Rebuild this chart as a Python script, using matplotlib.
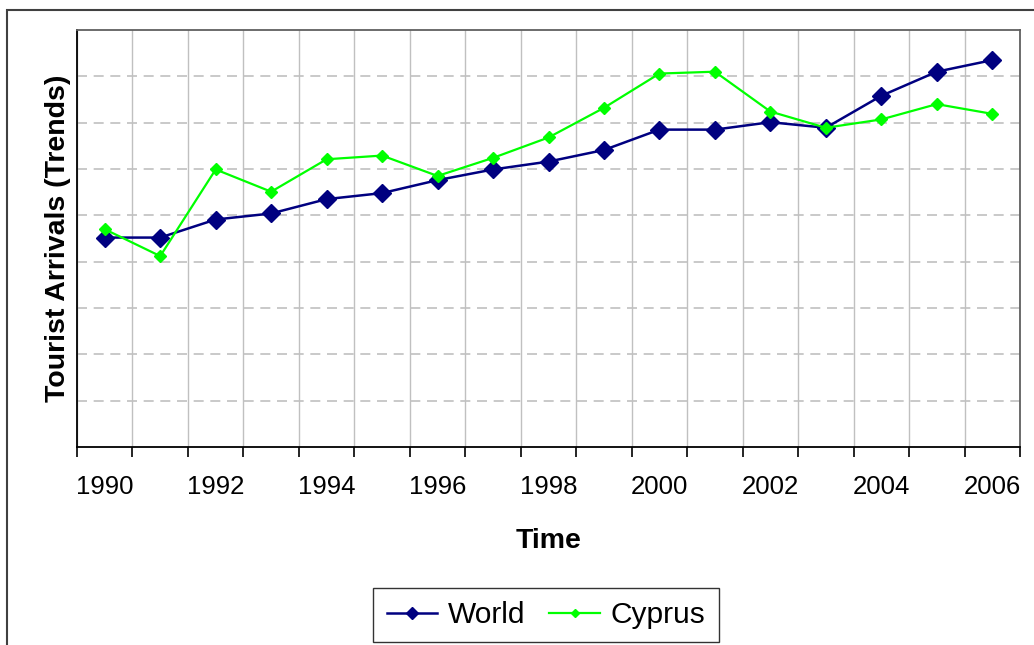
"""
Tourist arrivals trend chart: World vs Cyprus
"""
from matplotlib import pyplot as plt
from matplotlib.patches import Rectangle
import numpy as np

plt.rcParams['font.family'] = ['Liberation Sans', 'DejaVu Sans']

# data (arbitrary trend units)
years = [str(y) for y in range(1990, 2007)]
world = [45.2, 45.2, 49.1, 50.4, 53.5, 54.8, 57.6, 59.9, 61.6, 64.1,
         68.5, 68.5, 70.1, 68.9, 75.8, 81.0, 83.5]
cyprus = [47.0, 41.2, 59.9, 55.1, 62.1, 62.9, 58.5, 62.4, 66.8, 73.2,
          80.6, 81.0, 72.4, 68.9, 70.7, 74.0, 71.9]

fig = plt.figure(figsize=(10.34, 6.45), dpi=100)
ax = fig.add_axes([77 / 1034, 198 / 645, 943 / 1034, 417 / 645])

# outer chart frame (cut off on the right and bottom)
fig.patches.append(Rectangle((7 / 1034, -0.1), 1.2, 0.1 + 635 / 645,
                             transform=fig.transFigure, fill=False,
                             edgecolor='#404040', linewidth=1.5))

x = np.arange(len(years))
ax.plot(x, world, color='#000080', linewidth=1.8, marker='D',
        markersize=9, label='World', zorder=3)
ax.plot(x, cyprus, color='#00FF00', linewidth=1.6, marker='D',
        markersize=6, label='Cyprus', zorder=4)

ax.set_xlim(-0.5, len(years) - 0.5)
ax.set_ylim(0, 90)

# category axis: ticks/grid between categories, labels every second year
ax.set_xticks(x[::2])
ax.set_xticklabels(years[::2], fontsize=18.5)
ax.set_xticks(np.arange(-0.5, len(years)), minor=True)
ax.tick_params(axis='x', which='major', length=0, pad=20)
ax.tick_params(axis='x', which='minor', length=7, width=1.2,
               direction='out', color='black')
ax.grid(True, axis='x', which='minor', color='#c0c0c0', linewidth=1,
        linestyle='-')

ax.set_yticks(np.arange(10, 90, 10))
ax.set_yticklabels([])
ax.tick_params(axis='y', length=0)
ax.grid(True, axis='y', which='major', color='#c0c0c0', linewidth=1.2,
        linestyle=(0, (6, 4)))
ax.set_axisbelow(True)

for side in ['left', 'bottom']:
    ax.spines[side].set_color('black')
    ax.spines[side].set_linewidth(1.3)
for side in ['top', 'right']:
    ax.spines[side].set_color('#606060')
    ax.spines[side].set_linewidth(1.3)

ax.set_xlabel('Time', fontsize=20.5, fontweight='bold', labelpad=21)
ax.set_ylabel('Tourist Arrivals (Trends)', fontsize=20.5, fontweight='bold',
              labelpad=1)

leg = fig.legend(loc='center', bbox_to_anchor=(546 / 1034, 30 / 645),
                 ncol=2, fontsize=21.5, frameon=True, fancybox=False,
                 edgecolor='black', handlelength=1.7, handletextpad=0.35,
                 columnspacing=0.8, borderpad=0.45, borderaxespad=0,
                 markerscale=0.7)
leg.get_frame().set_linewidth(1.0)

plt.savefig('out.png', dpi=100)
